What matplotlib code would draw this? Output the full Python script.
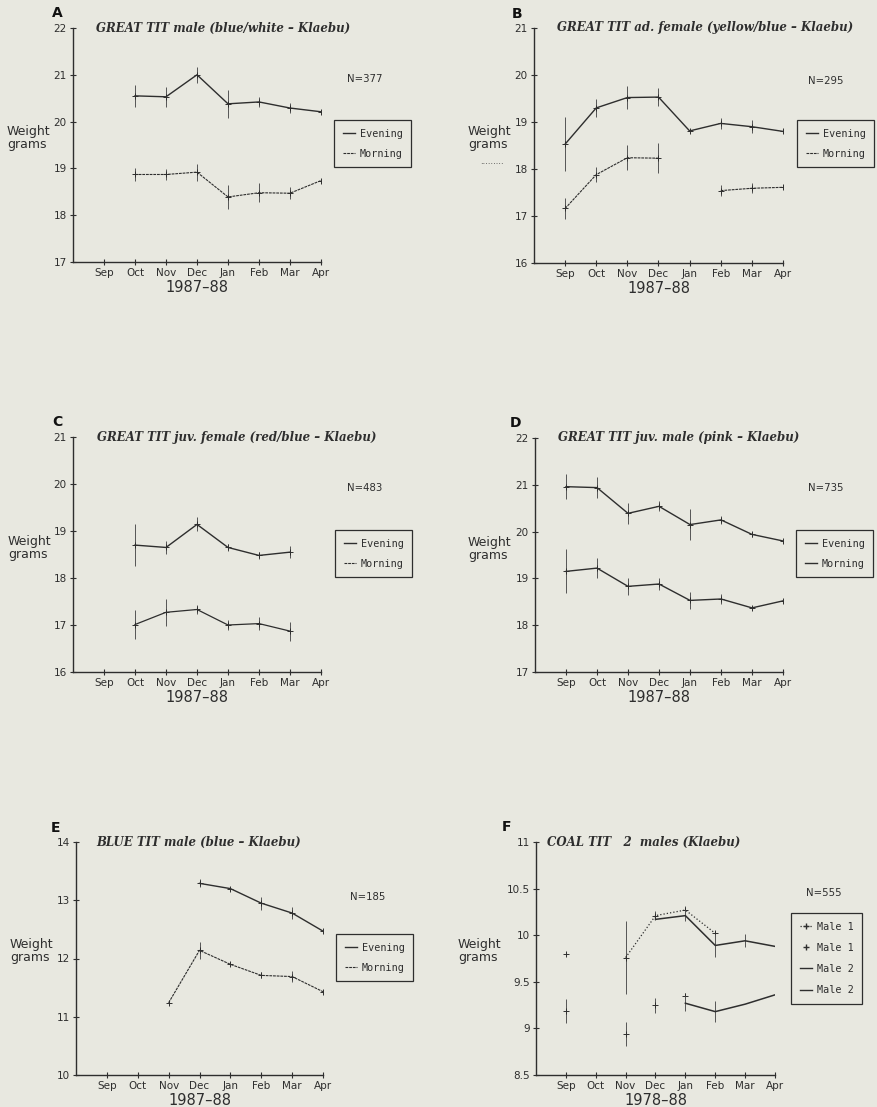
import numpy as np
import matplotlib
matplotlib.use("Agg")
import matplotlib.pyplot as plt
from matplotlib.lines import Line2D

nan = np.nan
W, H = 878, 1107
BG = "#e8e8e0"
INK = "#2e2e2e"

months = ["Sep", "Oct", "Nov", "Dec", "Jan", "Feb", "Mar", "Apr"]

# A - great tit male
a_even = [nan, 20.55, 20.53, 21.00, 20.38, 20.42, 20.29, 20.21]
a_even_err = [0, 0.23, 0.22, 0.17, 0.30, 0.10, 0.10, 0.28]
a_morn = [nan, 18.87, 18.87, 18.92, 18.39, 18.48, 18.47, 18.74]
a_morn_err = [0, 0.13, 0.11, 0.18, 0.25, 0.20, 0.13, 0]

# B - great tit adult female
b_even = [18.53, 19.30, 19.52, 19.53, 18.81, 18.97, 18.90, 18.80]
b_even_err = [0.57, 0.20, 0.25, 0.20, 0, 0.12, 0.14, 0]
b_morn = [17.16, 17.88, 18.24, 18.23, nan, 17.54, 17.59, 17.61]
b_morn_err = [0.23, 0.16, 0.27, 0.32, 0, 0.12, 0.11, 0.12]

# C - great tit juvenile female
c_even = [nan, 18.70, 18.65, 19.14, 18.65, 18.48, 18.55, nan]
c_even_err = [0, 0.45, 0.13, 0.15, 0.08, 0.07, 0.13, 0]
c_morn = [nan, 17.01, 17.27, 17.33, 17.00, 17.03, 16.87, nan]
c_morn_err = [0, 0.30, 0.29, 0.10, 0.10, 0.13, 0.20, 0]

# D - great tit juvenile male
d_even = [20.96, 20.94, 20.39, 20.54, 20.15, 20.25, 19.94, 19.80]
d_even_err = [0.27, 0.23, 0.23, 0.11, 0.33, 0.08, 0.05, 0.13]
d_morn = [19.15, 19.22, 18.83, 18.88, 18.53, 18.56, 18.37, 18.52]
d_morn_err = [0.47, 0.21, 0.18, 0.13, 0.19, 0.11, 0.05, 0.10]

# E - blue tit male
e_even = [nan, nan, nan, 13.29, 13.20, 12.95, 12.78, 12.47]
e_even_err = [0, 0, 0, 0.07, 0, 0.11, 0.11, 0.07]
e_morn = [nan, nan, 11.24, 12.14, 11.90, 11.71, 11.69, 11.43]
e_morn_err = [0, 0, 0, 0.14, 0, 0.05, 0.09, 0.09]

# F - coal tit, two males
f_m1a = [9.80, nan, 9.76, 10.21, 10.27, 10.02, nan, nan]
f_m1a_err = [0, 0, 0.39, 0.05, 0.04, 0.03, 0, 0]
f_m1b = [9.19, nan, 8.94, 9.25, 9.35, nan, nan, nan]
f_m1b_err = [0.13, 0, 0.13, 0.08, 0.03, 0, 0, 0]
f_m2a = [nan, nan, nan, 10.17, 10.21, 9.89, 9.94, 9.88]
f_m2a_err = [0, 0, 0, 0, 0.06, 0.12, 0.07, 0.12]
f_m2b = [nan, nan, nan, nan, 9.27, 9.18, 9.26, 9.36]
f_m2b_err = [0, 0, 0, 0, 0.08, 0.11, 0, 0]

plt.rcParams["font.family"] = "DejaVu Sans"
fig = plt.figure(figsize=(W / 100, H / 100), dpi=100, facecolor=BG)


def px_axes(x0, x1, ytop, ybot):
    return fig.add_axes([x0 / W, 1 - ybot / H, (x1 - x0) / W, (ybot - ytop) / H])


def series(ax, y, err, ls, lw, marker="+"):
    x = np.arange(len(months))
    y = np.asarray(y, float)
    err = np.asarray(err, float)
    m = err > 0
    ax.vlines(x[m], y[m] - err[m], y[m] + err[m], color="#555555", lw=0.7)
    ax.plot(x, y, color=INK, lw=lw, ls=ls, marker=marker, ms=4, mew=0.7)


def frame(ax, ylim, yticks, yfmt, title, tx, n, npos, year):
    ax.set_facecolor(BG)
    ax.set_xlim(-1, 7)
    ax.set_ylim(*ylim)
    ax.set_xticks(range(len(months)))
    ax.set_xticklabels(months)
    ax.set_yticks(yticks)
    ax.set_yticklabels([yfmt.format(v) for v in yticks])
    for s in ["top", "right"]:
        ax.spines[s].set_visible(False)
    for s in ["left", "bottom"]:
        ax.spines[s].set_color(INK)
        ax.spines[s].set_linewidth(1.0)
    ax.tick_params(direction="inout", length=5, width=0.8, color=INK,
                   labelsize=7.5, labelcolor=INK, pad=2)
    ax.text(tx, 1.0, title, transform=ax.transAxes, ha="left", va="center",
            family="DejaVu Serif", style="italic", weight="bold", fontsize=8.5,
            color=INK)
    ax.text(npos[0], npos[1], n, transform=ax.transAxes, ha="left", va="center",
            family="DejaVu Sans", fontsize=7.3, color=INK, clip_on=False)
    ax.text(0.5, -0.11, year, transform=ax.transAxes, ha="center", va="center",
            fontsize=10.5, color=INK)


def legend(ax, handles, labels, anchor, spacing=1.0):
    lg = ax.legend(handles, labels, loc="upper left", bbox_to_anchor=anchor,
                   frameon=True, fancybox=False, edgecolor=INK, facecolor=BG,
                   framealpha=1, borderaxespad=0, borderpad=0.85,
                   handlelength=1.2, handletextpad=0.5, labelspacing=spacing,
                   prop={"family": "DejaVu Sans Mono", "size": 7.3})
    lg.get_frame().set_linewidth(0.9)
    for t in lg.get_texts():
        t.set_color(INK)


def ylabel(x, y):
    fig.text(x / W, 1 - y / H, "Weight\ngrams", ha="left", va="center",
             fontsize=9, color=INK, linespacing=1.05)


def letter(x, y, s):
    fig.text(x / W, 1 - y / H, s, ha="center", va="center", fontsize=10,
             weight="bold", color="#111111")


ev_h = Line2D([], [], color=INK, lw=1.0)
mo_h = Line2D([], [], color=INK, lw=0.8, ls=(0, (2.5, 0.8)))
ev_mo = ["Evening", "Morning"]

# A
ax = px_axes(73, 321, 28, 262)
frame(ax, (17, 22), range(17, 23), "{}", "GREAT TIT male (blue/white \u2013 Klaebu)",
      0.093, "N=377", (1.105, 0.782), "1987\u201388")
series(ax, a_even, a_even_err, "-", 1.0)
series(ax, a_morn, a_morn_err, (0, (2.5, 0.8)), 0.8)
legend(ax, [ev_h, mo_h], ev_mo, (1.052, 0.607))
ylabel(7, 138)
letter(57, 13, "A")

# B
ax = px_axes(534, 783, 28, 263)
frame(ax, (16, 21), range(16, 22), "{}", "GREAT TIT ad. female (yellow/blue \u2013 Klaebu)",
      0.092, "N=295", (1.10, 0.774), "1987\u201388")
series(ax, b_even, b_even_err, "-", 1.0)
series(ax, b_morn, b_morn_err, (0, (2.5, 0.8)), 0.8)
legend(ax, [ev_h, mo_h], ev_mo, (1.056, 0.609))
ylabel(468, 138)
fig.text(492 / W, 1 - 162 / H, ".........", ha="center", va="center",
         fontsize=6, color=INK)
letter(517, 14, "B")

# C
ax = px_axes(73, 321, 437, 672)
frame(ax, (16, 21), range(16, 22), "{}", "GREAT TIT juv. female (red/blue \u2013 Klaebu)",
      0.097, "N=483", (1.105, 0.783), "1987\u201388")
series(ax, c_even, c_even_err, "-", 1.0)
series(ax, c_morn, c_morn_err, "-", 0.9)
legend(ax, [ev_h, mo_h], ev_mo, (1.056, 0.604))
ylabel(8, 548)
letter(57, 422, "C")

# D
ax = px_axes(535, 783, 438, 672)
frame(ax, (17, 22), range(17, 23), "{}", "GREAT TIT juv. male (pink \u2013 Klaebu)",
      0.093, "N=735", (1.10, 0.786), "1987\u201388")
series(ax, d_even, d_even_err, "-", 1.0)
series(ax, d_morn, d_morn_err, "-", 1.0)
legend(ax, [ev_h, ev_h], ev_mo, (1.052, 0.607))
ylabel(468, 549)
letter(516, 423, "D")

# E
ax = px_axes(76, 323, 842, 1075)
frame(ax, (10, 14), range(10, 15), "{}", "BLUE TIT male (blue \u2013 Klaebu)",
      0.081, "N=185", (1.109, 0.764), "1987\u201388")
series(ax, e_even, e_even_err, "-", 1.0)
series(ax, e_morn, e_morn_err, (0, (2.5, 0.8)), 0.8)
legend(ax, [ev_h, mo_h], ev_mo, (1.053, 0.605))
ylabel(10, 951)
letter(55, 828, "E")

# F
ax = px_axes(536, 775, 842, 1075)
fticks = [8.5, 9, 9.5, 10, 10.5, 11]
frame(ax, (8.5, 11), fticks, "{:g}", "COAL TIT   2  males (Klaebu)",
      0.046, "N=555", (1.13, 0.781), "1978\u201388")
series(ax, f_m1a, f_m1a_err, ":", 0.9)
series(ax, f_m1b, f_m1b_err, "none", 0.9)
series(ax, f_m2a, f_m2a_err, "-", 1.1, marker="none")
series(ax, f_m2b, f_m2b_err, "-", 1.1, marker="none")
fh = [Line2D([], [], color=INK, lw=0.9, ls=":", marker="+", ms=4),
      Line2D([], [], color=INK, ls="none", marker="+", ms=4),
      Line2D([], [], color=INK, lw=1.0),
      Line2D([], [], color=INK, lw=1.0)]
legend(ax, fh, ["Male 1", "Male 1", "Male 2", "Male 2"], (1.067, 0.695), spacing=1.1)
ylabel(458, 951)
letter(507, 827, "F")

fig.savefig("out.png", dpi=100, facecolor=BG)
